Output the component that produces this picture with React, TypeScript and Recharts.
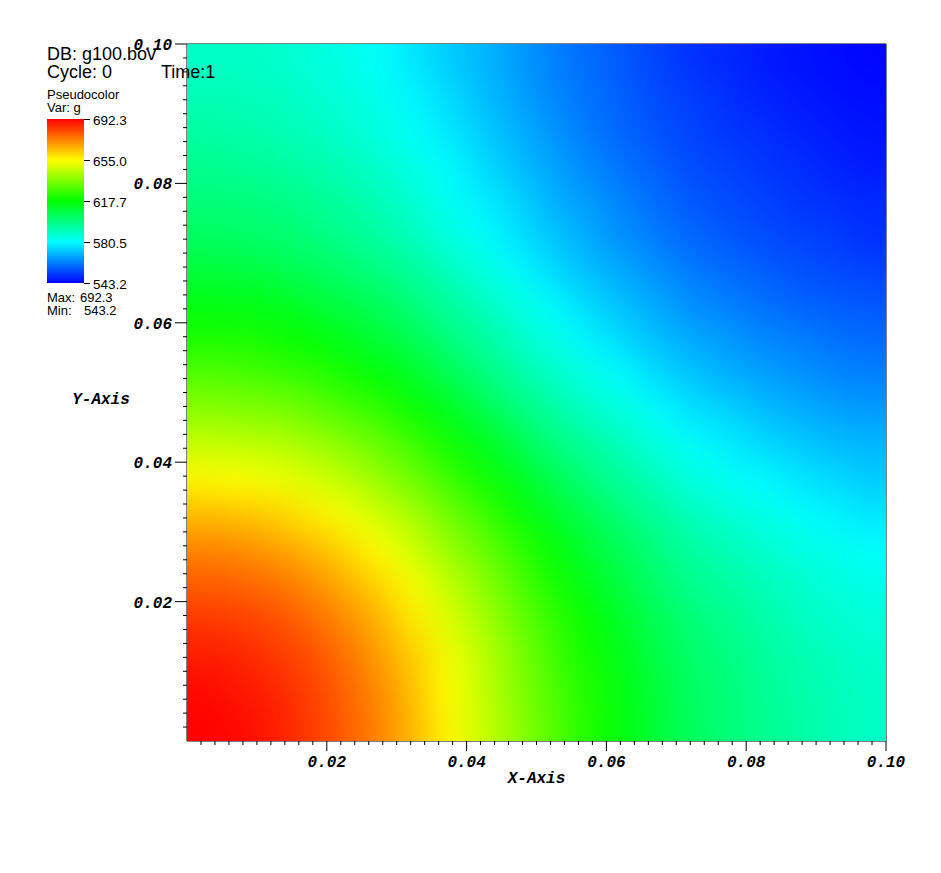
import React from "react";
import { ScatterChart, Scatter, XAxis, YAxis, ReferenceArea } from "recharts";

// centres of the 20 x 20 cells, in axis units
const X_CENTERS = [
  0.0025, 0.0075, 0.0125, 0.0175, 0.0225, 0.0275, 0.0325, 0.0375, 0.0425, 0.0475,
  0.0525, 0.0575, 0.0625, 0.0675, 0.0725, 0.0775, 0.0825, 0.0875, 0.0925, 0.0975,
];
const Y_CENTERS = [
  0.0025, 0.0075, 0.0125, 0.0175, 0.0225, 0.0275, 0.0325, 0.0375, 0.0425, 0.0475,
  0.0525, 0.0575, 0.0625, 0.0675, 0.0725, 0.0775, 0.0825, 0.0875, 0.0925, 0.0975,
];

// values of g, first row is the bottom (y = 0.0025)
const G_ROWS = [
  [692, 691, 688, 684, 679, 673, 665, 656, 647, 638, 630, 622, 616, 609, 604, 600, 597, 594, 591, 589],
  [691, 689, 687, 683, 678, 672, 664, 655, 646, 637, 629, 622, 615, 609, 603, 600, 596, 593, 591, 589],
  [688, 687, 684, 681, 676, 669, 662, 653, 645, 636, 627, 620, 614, 607, 602, 599, 595, 592, 590, 588],
  [684, 683, 681, 677, 672, 666, 658, 650, 642, 633, 625, 618, 611, 605, 600, 597, 593, 590, 588, 586],
  [679, 678, 676, 672, 667, 661, 654, 646, 638, 629, 621, 614, 608, 602, 597, 594, 591, 588, 586, 584],
  [673, 672, 669, 666, 661, 655, 648, 640, 633, 625, 617, 610, 605, 599, 594, 591, 588, 585, 583, 581],
  [665, 664, 662, 658, 654, 648, 642, 634, 627, 619, 612, 606, 600, 595, 590, 587, 584, 581, 579, 577],
  [656, 655, 653, 650, 646, 640, 634, 627, 620, 613, 606, 600, 595, 590, 585, 582, 580, 577, 575, 573],
  [647, 646, 645, 642, 638, 633, 627, 620, 614, 607, 600, 595, 590, 585, 581, 578, 575, 573, 571, 570],
  [638, 637, 636, 633, 629, 625, 619, 613, 607, 600, 594, 589, 585, 580, 576, 574, 571, 569, 567, 566],
  [630, 629, 627, 625, 621, 617, 612, 606, 600, 594, 589, 584, 580, 575, 572, 569, 567, 565, 563, 562],
  [622, 622, 620, 618, 614, 610, 606, 600, 595, 589, 584, 579, 575, 571, 568, 566, 563, 562, 560, 559],
  [616, 615, 614, 611, 608, 605, 600, 595, 590, 585, 580, 575, 571, 568, 564, 562, 560, 558, 557, 556],
  [609, 609, 607, 605, 602, 599, 595, 590, 585, 580, 575, 571, 568, 564, 561, 559, 557, 555, 554, 553],
  [604, 603, 602, 600, 597, 594, 590, 585, 581, 576, 572, 568, 564, 561, 558, 556, 554, 553, 552, 550],
  [600, 600, 599, 597, 594, 591, 587, 582, 578, 574, 569, 566, 562, 559, 556, 554, 553, 551, 550, 549],
  [597, 596, 595, 593, 591, 588, 584, 580, 575, 571, 567, 563, 560, 557, 554, 553, 551, 550, 548, 547],
  [594, 593, 592, 590, 588, 585, 581, 577, 573, 569, 565, 561, 558, 555, 553, 551, 550, 548, 547, 546],
  [591, 591, 590, 588, 586, 583, 579, 575, 571, 567, 563, 560, 557, 554, 552, 550, 548, 547, 546, 545],
  [589, 589, 588, 586, 584, 581, 577, 573, 570, 566, 562, 559, 556, 553, 550, 549, 547, 546, 545, 544],
];

const G_MIN = 543.2;
const G_MAX = 692.3;
const LEGEND_LABELS = ["692.3", "655.0", "617.7", "580.5", "543.2"];

const MAJOR_TICKS = [0.02, 0.04, 0.06, 0.08, 0.1];
const MAJOR_LABELS = ["0.02", "0.04", "0.06", "0.08", "0.10"];
const MINOR_TICKS = Array.from({ length: 50 }, (_, k) => ((k + 1) * 2) / 1000);

const W = 941;
const H = 873;
const PLOT = { left: 187, top: 44, width: 699, height: 697 };
const CELL_W = PLOT.width / X_CENTERS.length;
const CELL_H = PLOT.height / Y_CENTERS.length;

// blue - cyan - green - yellow - red
const STOPS = [
  [0, 0, 255],
  [0, 255, 255],
  [0, 255, 0],
  [255, 255, 0],
  [255, 0, 0],
];

function gColor(v: number) {
  let t = (v - G_MIN) / (G_MAX - G_MIN);
  t = Math.max(0, Math.min(1, t));
  const s = t * 4;
  const i = Math.min(3, Math.floor(s));
  const f = s - i;
  const a = STOPS[i];
  const b = STOPS[i + 1];
  const c = a.map((ch, k) => Math.round(ch + (b[k] - ch) * f));
  return `rgb(${c[0]},${c[1]},${c[2]})`;
}

const cells = G_ROWS.flatMap((row, iy) =>
  row.map((g, ix) => ({ x: X_CENTERS[ix], y: Y_CENTERS[iy], g, ix, iy }))
);

const monoFont = {
  fontFamily: "'Liberation Mono', 'DejaVu Sans Mono', monospace",
  fontWeight: 700,
  fontStyle: "italic",
  fontSize: 16,
  fill: "#000",
} as const;
const sansFont = "'Liberation Sans', Arial, sans-serif";

function majorIndex(v: number) {
  return MAJOR_TICKS.findIndex((m) => Math.abs(m - v) < 1e-9);
}

// edge cells are stretched outwards so the blur has colour to pull from
const HeatCell = (props: any) => {
  const { cx, cy, payload } = props;
  const EXT = 50;
  let x0 = cx - CELL_W / 2;
  let x1 = cx + CELL_W / 2;
  let y0 = cy - CELL_H / 2;
  let y1 = cy + CELL_H / 2;
  if (payload.ix === 0) x0 -= EXT;
  if (payload.ix === X_CENTERS.length - 1) x1 += EXT;
  if (payload.iy === 0) y1 += EXT;
  if (payload.iy === Y_CENTERS.length - 1) y0 -= EXT;
  return (
    <rect
      x={x0 - 0.5}
      y={y0 - 0.5}
      width={x1 - x0 + 1}
      height={y1 - y0 + 1}
      fill={gColor(payload.g)}
      stroke="none"
    />
  );
};

const XTick = (props: any) => {
  const { x, y, payload } = props;
  const idx = majorIndex(payload.value);
  const len = idx >= 0 ? 10 : 4;
  return (
    <g>
      <line x1={x} x2={x} y1={y} y2={y + len} stroke="#000" strokeWidth={1} />
      {idx >= 0 && (
        <text x={x} y={y + 26} textAnchor="middle" style={monoFont}>
          {MAJOR_LABELS[idx]}
        </text>
      )}
    </g>
  );
};

const YTick = (props: any) => {
  const { x, y, payload } = props;
  const idx = majorIndex(payload.value);
  const len = idx >= 0 ? 12 : 4;
  return (
    <g>
      <line x1={x - len} x2={x} y1={y} y2={y} stroke="#000" strokeWidth={1} />
      {idx >= 0 && (
        <text x={x - 15} y={y + 6} textAnchor="end" style={monoFont}>
          {MAJOR_LABELS[idx]}
        </text>
      )}
    </g>
  );
};

const css = `
.g-heat, .recharts-scatter { filter: url(#gBlur); clip-path: url(#gClip); }
`;

export default function App() {
  const barTop = 119;
  const barH = 164;
  return (
    <div style={{ position: "relative", width: W, height: H, margin: -8, background: "#fff" }}>
      <style>{css}</style>
      <svg width={0} height={0} style={{ position: "absolute" }}>
        <defs>
          <filter
            id="gBlur"
            filterUnits="userSpaceOnUse"
            x={100}
            y={0}
            width={880}
            height={840}
            colorInterpolationFilters="sRGB"
          >
            <feGaussianBlur stdDeviation={16} />
          </filter>
          <clipPath id="gClip" clipPathUnits="userSpaceOnUse">
            <rect x={PLOT.left} y={PLOT.top} width={PLOT.width} height={PLOT.height} />
          </clipPath>
        </defs>
      </svg>

      <ScatterChart
        width={W}
        height={H}
        margin={{ top: PLOT.top, right: W - PLOT.left - PLOT.width, left: 87, bottom: 72 }}
      >
        <XAxis
          type="number"
          dataKey="x"
          domain={[0, 0.1]}
          ticks={MINOR_TICKS}
          interval={0}
          height={60}
          tickSize={0}
          tickMargin={0}
          axisLine={false}
          tickLine={false}
          tick={<XTick />}
        />
        <YAxis
          type="number"
          dataKey="y"
          domain={[0, 0.1]}
          ticks={MINOR_TICKS}
          interval={0}
          width={100}
          tickSize={0}
          tickMargin={0}
          axisLine={false}
          tickLine={false}
          tick={<YTick />}
        />
        <Scatter data={cells} shape={HeatCell} className="g-heat" isAnimationActive={false} />
        <ReferenceArea
          x1={0}
          x2={0.1}
          y1={0}
          y2={0.1}
          fill="none"
          fillOpacity={0}
          stroke="#000"
          strokeWidth={1}
          ifOverflow="visible"
        />
      </ScatterChart>

      <svg
        width={W}
        height={H}
        style={{ position: "absolute", left: 0, top: 0, pointerEvents: "none" }}
      >
        <defs>
          <linearGradient id="gBar" x1="0" y1="0" x2="0" y2="1">
            {STOPS.slice()
              .reverse()
              .map((c, i) => (
                <stop key={i} offset={i / 4} stopColor={`rgb(${c[0]},${c[1]},${c[2]})`} />
              ))}
          </linearGradient>
        </defs>
        <text x={47} y={60} fontFamily={sansFont} fontSize={18}>
          DB: g100.bov
        </text>
        <text x={47} y={78} fontFamily={sansFont} fontSize={18}>
          Cycle: 0
        </text>
        <text x={161} y={78} fontFamily={sansFont} fontSize={18}>
          Time:1
        </text>
        <text x={47} y={99} fontFamily={sansFont} fontSize={13}>
          Pseudocolor
        </text>
        <text x={47} y={112} fontFamily={sansFont} fontSize={13}>
          Var: g
        </text>
        <rect x={47} y={barTop} width={37} height={barH} fill="url(#gBar)" />
        {LEGEND_LABELS.map((lab, i) => {
          const ty = barTop + 0.5 + (i * barH) / 4;
          return (
            <g key={lab}>
              <line x1={84} x2={90} y1={ty} y2={ty} stroke="#000" strokeWidth={1} />
              <text x={93} y={ty + 5} fontFamily={sansFont} fontSize={13.5}>
                {lab}
              </text>
            </g>
          );
        })}
        <text x={47} y={302} fontFamily={sansFont} fontSize={13}>
          Max:
        </text>
        <text x={80} y={302} fontFamily={sansFont} fontSize={13}>
          692.3
        </text>
        <text x={47} y={315} fontFamily={sansFont} fontSize={13}>
          Min:
        </text>
        <text x={84} y={315} fontFamily={sansFont} fontSize={13}>
          543.2
        </text>
        <text x={101} y={404} textAnchor="middle" style={monoFont}>
          Y-Axis
        </text>
        <text x={PLOT.left + PLOT.width / 2} y={783} textAnchor="middle" style={monoFont}>
          X-Axis
        </text>
      </svg>
    </div>
  );
}
